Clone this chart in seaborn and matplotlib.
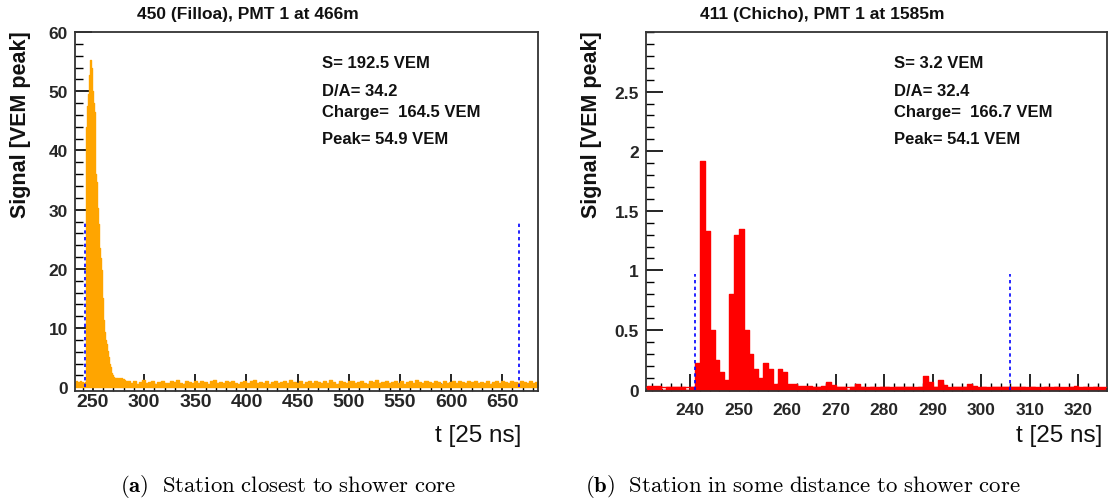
import numpy as np
import pandas as pd
import matplotlib
matplotlib.use("Agg")
import matplotlib.pyplot as plt
import seaborn as sns
from matplotlib.ticker import MultipleLocator, FixedLocator, FormatStrFormatter

# ---------------- data ----------------
# (a) station 450 (Filloa): 1-bin resolution near the peak, then 3-bin steps for the baseline
t_a_fine_start = 232
signal_a_fine = [0.9, 1.0, 0.6, 0.9, 0.8, 1.0, 0.7, 0.9, 0.5, 0.8, 0.9,
                 44.0, 47.5, 49.6, 52.7, 55.2, 54.0, 50.1, 48.0, 46.5, 36.0,
                 34.7, 30.3, 27.5, 23.5, 21.8, 19.8, 15.0, 11.3, 9.4, 8.0,
                 7.4, 6.1, 5.2, 4.0, 3.4, 2.4, 2.1, 1.8, 1.5, 1.5,
                 1.6, 1.4, 1.5, 1.3, 1.5, 1.0, 1.4, 1.2, 0.9, 1.0]
t_a_coarse_start = 283
t_a_coarse_width = 3
signal_a_coarse = [1.0, 0.8, 1.1, 0.6, 0.9, 1.2, 0.7, 0.9, 1.0, 0.5,
                   0.9, 1.1, 0.8, 0.7, 1.0, 0.9, 1.3, 0.8, 0.6, 1.0,
                   0.9, 0.8, 1.1, 0.7, 1.0, 0.9, 0.6, 1.0, 1.2, 0.8,
                   0.9, 0.7, 1.0, 0.9, 1.1, 0.8, 0.5, 0.9, 1.0, 0.8,
                   1.0, 1.2, 0.7, 0.9, 0.8, 1.0, 0.6, 0.9, 1.1, 0.8,
                   0.9, 1.0, 0.7, 1.3, 0.9, 0.8, 1.0, 0.6, 0.9, 1.0,
                   0.8, 1.1, 0.9, 0.7, 1.0, 0.8, 1.2, 0.9, 0.6, 1.0,
                   0.9, 0.8, 1.0, 1.1, 0.7, 0.9, 1.0, 0.8, 0.5, 1.0,
                   0.9, 1.2, 0.8, 0.9, 1.0, 0.7, 0.9, 1.1, 0.8, 1.0,
                   0.6, 0.9, 1.0, 0.8, 1.2, 0.9, 0.7, 1.0, 0.9, 0.8,
                   1.1, 0.9, 0.6, 1.0, 0.8, 0.9, 1.0, 0.7, 1.0, 0.9,
                   0.8, 1.1, 0.9, 1.0, 0.7, 0.9, 0.8, 1.0, 0.6, 0.9,
                   1.0, 0.8, 1.1, 0.9, 0.7, 1.0, 0.9, 0.8, 1.0, 0.9,
                   0.7, 1.0, 0.8, 0.9, 1.0]
window_a = [242.2, 666.5]
window_a_height = 27.7

# (b) station 411 (Chicho): 1-bin resolution
t_b_start = 231
signal_b = [0.03, 0.03, 0.03, 0.00, 0.02, 0.02, 0.02, 0.02, 0.00, 0.02,
            0.22, 1.92, 1.33, 0.50, 0.25, 0.15, 0.08, 0.80, 1.30, 1.35,
            0.50, 0.30, 0.17, 0.10, 0.22, 0.17, 0.05, 0.17, 0.15, 0.05,
            0.05, 0.03, 0.03, 0.03, 0.02, 0.02, 0.03, 0.06, 0.04, 0.02,
            0.02, 0.00, 0.02, 0.05, 0.02, 0.01, 0.02, 0.01, 0.02, 0.02,
            0.01, 0.02, 0.02, 0.02, 0.02, 0.01, 0.02, 0.11, 0.06, 0.02,
            0.08, 0.04, 0.01, 0.02, 0.02, 0.02, 0.05, 0.03, 0.01, 0.02,
            0.01, 0.02, 0.02, 0.02, 0.02, 0.02, 0.02, 0.02, 0.01, 0.02,
            0.01, 0.01, 0.02, 0.01, 0.02, 0.01, 0.01, 0.02, 0.03, 0.01,
            0.02, 0.01, 0.02, 0.01, 0.01]
window_b = [241.0, 306.0]
window_b_height = 0.97
baseline_b = 0.025

titles = ["450 (Filloa), PMT 1 at 466m", "411 (Chicho), PMT 1 at 1585m"]
info_a = ["S= 192.5 VEM", "D/A= 34.2", "Charge=  164.5 VEM", "Peak= 54.9 VEM"]
info_b = ["S= 3.2 VEM", "D/A= 32.4", "Charge=  166.7 VEM", "Peak= 54.1 VEM"]
ylabel = "Signal [VEM peak]"
xlabel = "t [25 ns]"
captions = [(r"(a)", r"Station\ closest\ to\ shower\ core"),
            (r"(b)", r"Station\ in\ some\ distance\ to\ shower\ core")]

# ---------------- figure ----------------
sns.set_theme(style="white")
plt.rcParams["font.family"] = ["Liberation Sans", "DejaVu Sans"]
plt.rcParams["mathtext.fontset"] = "cm"

W, H = 1111, 502
fig = plt.figure(figsize=(W / 100, H / 100), dpi=100)
fig.patch.set_facecolor("white")


def px_rect(x0, y0, x1, y1):
    return [x0 / W, 1 - y1 / H, (x1 - x0) / W, (y1 - y0) / H]


ax_a = fig.add_axes(px_rect(75, 33, 538, 391.7))
ax_b = fig.add_axes(px_rect(645.7, 33, 1107, 391.7))

# histogram (a)
edges_a = np.concatenate([
    np.arange(t_a_fine_start, t_a_fine_start + len(signal_a_fine) + 1, 1.0),
    np.arange(t_a_coarse_start + t_a_coarse_width,
              t_a_coarse_start + t_a_coarse_width * len(signal_a_coarse) + 1,
              t_a_coarse_width, dtype=float)])
df_a = pd.DataFrame({"t": 0.5 * (edges_a[:-1] + edges_a[1:]),
                     "signal": signal_a_fine + signal_a_coarse})
sns.histplot(data=df_a, x="t", weights="signal", bins=edges_a.tolist(),
             element="step", fill=True, color="#FFA500", alpha=1.0,
             linewidth=1.0, edgecolor="#FFA500", ax=ax_a)

# histogram (b)
edges_b = np.arange(t_b_start, t_b_start + len(signal_b) + 1, 1.0)
df_b = pd.DataFrame({"t": 0.5 * (edges_b[:-1] + edges_b[1:]),
                     "signal": signal_b})
sns.histplot(data=df_b, x="t", weights="signal", bins=edges_b.tolist(),
             element="step", fill=True, color="#FF0000", alpha=1.0,
             linewidth=1.0, edgecolor="#FF0000", ax=ax_b)
ax_b.axhline(baseline_b, color="#FF0000", lw=1.0, zorder=3)

# windows
ax_a.vlines(window_a, 0, window_a_height, colors="#0000FF",
            linestyles=(0, (2, 2)), lw=1.2, zorder=4)
ax_b.vlines(window_b, 0, window_b_height, colors="#0000FF",
            linestyles=(0, (2, 2)), lw=1.2, zorder=4)

ax_a.set_xlim(232.4, 685)
ax_a.set_ylim(-0.57, 60)
ax_b.set_xlim(230.8, 325.9)
ax_b.set_ylim(-0.01, 3.0)

ax_a.xaxis.set_major_locator(MultipleLocator(50))
ax_a.xaxis.set_minor_locator(MultipleLocator(10))
ax_a.yaxis.set_major_locator(MultipleLocator(10))
ax_a.yaxis.set_minor_locator(MultipleLocator(2))
ax_b.xaxis.set_major_locator(MultipleLocator(10))
ax_b.xaxis.set_minor_locator(MultipleLocator(2))
ax_b.yaxis.set_major_locator(FixedLocator([0, 0.5, 1, 1.5, 2, 2.5]))
ax_b.yaxis.set_minor_locator(MultipleLocator(0.1))
ax_b.yaxis.set_major_formatter(FormatStrFormatter("%g"))

for ax, xpad, xfs, yfs in [(ax_a, 1.5, 14, 12.5), (ax_b, 8, 12.5, 12.5)]:
    ax.set_facecolor("white")
    ax.set_xlabel("")
    ax.set_ylabel("")
    for s in ax.spines.values():
        s.set_color("#333333")
        s.set_linewidth(1.3)
        s.set_visible(True)
    ax.tick_params(which="major", direction="in", length=12, width=1.2,
                   color="black", top=False, right=False, bottom=True, left=True)
    ax.tick_params(which="minor", direction="in", length=6, width=1.0,
                   color="black", top=False, right=False, bottom=True, left=True)
    ax.tick_params(axis="x", which="major", pad=xpad, labelsize=xfs)
    ax.tick_params(axis="y", which="major", pad=5, labelsize=yfs)
    for lab in ax.get_xticklabels() + ax.get_yticklabels():
        lab.set_fontweight("bold")
    ax.grid(False)

# titles
for cx, txt in [(248, titles[0]), (822.5, titles[1])]:
    fig.text(cx / W, 1 - 15 / H, txt, ha="center", va="center",
             fontsize=12.5, fontweight="bold", color="#111111")

# info boxes
rows_y = [63, 91, 113, 140]
for x0, lines in [(322, info_a), (894, info_b)]:
    for yy, txt in zip(rows_y, lines):
        fig.text(x0 / W, 1 - yy / H, txt, ha="left", va="center",
                 fontsize=12, fontweight="bold", color="#111111")

# axis labels
for x0 in [21, 592]:
    fig.text(x0 / W, 1 - 31 / H, ylabel, rotation=90, ha="center", va="top",
             fontsize=15.5, fontweight="bold", color="#111111")
for x1 in [521, 1102]:
    fig.text(x1 / W, 1 - 436 / H, xlabel, ha="right", va="center",
             fontsize=17.5, color="#111111")

# captions
for x0, (tag, txt) in [(120, captions[0]), (585, captions[1])]:
    fig.text(x0 / W, 1 - 487 / H,
             r"$\mathbf{" + tag + r"}\ \ \mathrm{" + txt + r"}$",
             ha="left", va="center", fontsize=16.4, color="black")

fig.savefig("out.png", dpi=100, facecolor="white")
